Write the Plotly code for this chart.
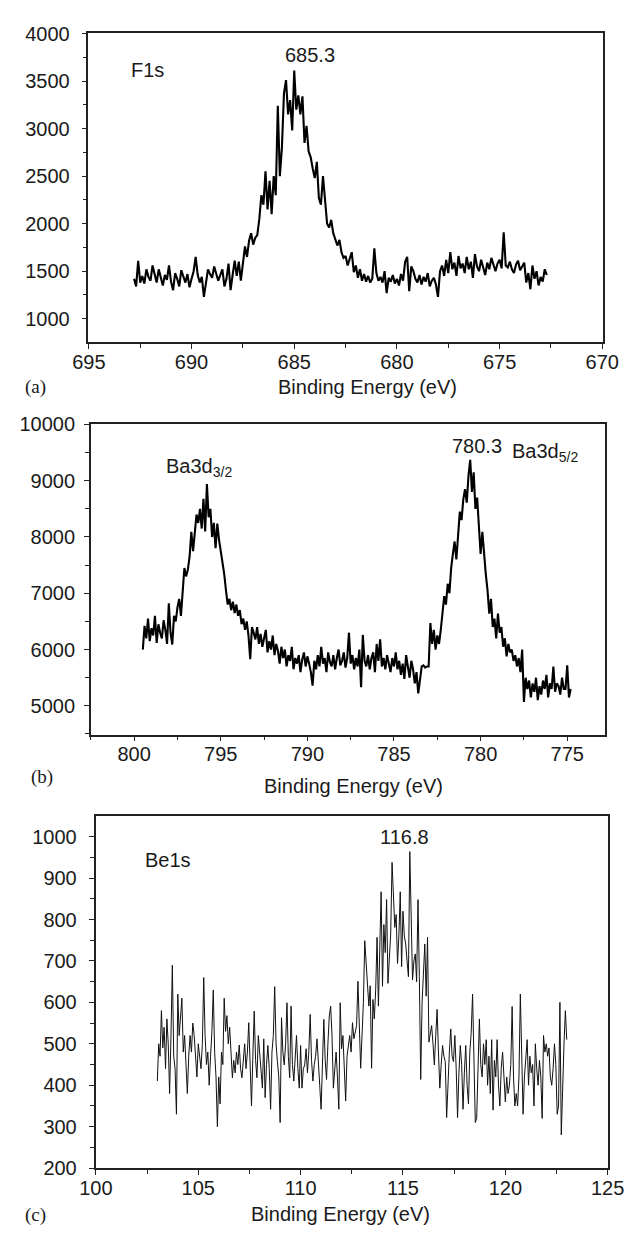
import numpy as np
import plotly.graph_objects as go

W, H = 639, 1234

# ---------------- Panel (a): F1s ----------------
energy_a_start, energy_a_step, n_a = 692.8, -0.1, 202
counts_a = [
    1420, 1340, 1610, 1380, 1450, 1370, 1520, 1440, 1400, 1560,
    1470, 1380, 1520, 1440, 1350, 1460, 1410, 1560, 1390, 1300,
    1480, 1420, 1340, 1510, 1450, 1380, 1470, 1330, 1420, 1500,
    1650, 1460, 1380, 1440, 1230, 1400, 1520, 1470, 1430, 1550,
    1480, 1400, 1460, 1520, 1340, 1420, 1580, 1300, 1460, 1610,
    1450, 1600, 1400, 1580, 1760, 1650, 1820, 1900, 1780, 1850,
    1880, 2050, 2300, 2200, 2550, 2150, 2450, 2100, 2500, 2300,
    3240, 2500, 2800, 3370, 3510, 3150, 3300, 2980, 3610, 3200,
    3350, 3150, 3340, 2850, 3030, 2760, 2700, 2580, 2480, 2650,
    2270, 2200, 2500, 2250, 2000, 1960, 2040, 1900, 1820, 1770,
    1830, 1700, 1640, 1660, 1560, 1620, 1700, 1490, 1560, 1430,
    1520, 1400, 1470, 1390, 1450, 1380, 1420, 1740, 1480, 1400,
    1440, 1380, 1500, 1270, 1430, 1390, 1460, 1370, 1420, 1350,
    1470, 1400, 1600, 1650, 1290, 1550, 1500, 1420, 1380, 1460,
    1360, 1440, 1390, 1480, 1340, 1400, 1430, 1360, 1230, 1500,
    1560, 1450, 1620, 1480, 1700, 1520, 1590, 1450, 1660, 1530,
    1580, 1480, 1650, 1520, 1600, 1430, 1680, 1550, 1500, 1620,
    1540, 1460, 1590, 1520, 1640, 1570, 1500, 1580, 1620, 1530,
    1910, 1560, 1540, 1600, 1520, 1480, 1570, 1610, 1510, 1550,
    1590, 1380, 1480, 1310, 1560, 1420, 1500, 1350, 1440, 1390,
    1520, 1460,
]
energy_a = np.round(energy_a_start + energy_a_step * np.arange(n_a), 2)

# ---------------- Panel (b): Ba3d ----------------
energy_b_start, energy_b_step, n_b = 799.5, -0.1, 248
counts_b = [
    6000, 6420, 6200, 6550, 6150, 6380, 6250, 6600, 6120, 6450,
    6300, 6200, 6520, 6350, 6100, 6820, 6300, 6090, 6600, 6500,
    6750, 6900, 6600, 7000, 7450, 7300, 7420, 7650, 8090, 7750,
    8100, 8400, 8250, 8500, 8150, 8680, 8100, 8940, 8350, 8500,
    8000, 8250, 7800, 8240, 7950, 7750, 7600, 7340, 7050, 6800,
    6900, 6700, 6850, 6650, 6800, 6600, 6700, 6450, 6550, 6350,
    6500, 6250, 5830, 6400, 6300, 6180, 6400, 6100, 6280, 6050,
    6200, 6350, 5950, 6150, 6000, 6250, 5900, 6100, 5980, 5750,
    6050, 5850, 6000, 5700, 5900, 5800, 6050, 5650, 5850, 5750,
    5900, 5600, 5820, 5950, 5700, 5880, 5750, 5600, 5360, 5800,
    5650, 5900, 5700, 6050, 5750, 5850, 5600, 5950, 5780, 5700,
    5900, 5650, 5850, 6000, 5720, 5800, 5950, 5680, 5850, 6300,
    5750, 5900, 5650, 5850, 5700, 6000, 5330, 6260, 5800, 5700,
    5900, 5650, 5850, 5950, 5600, 6100, 5800, 6180, 5700, 5850,
    5650, 5900, 5750, 5600, 5850, 5700, 5950, 5650, 5800, 5550,
    5750, 5480, 5900, 5650, 5500, 5800, 5650, 5400, 5600, 5220,
    5500, 5700, 5720, 5680, 5700, 5700, 6470, 6100, 6350, 6000,
    6250, 6100, 6350, 6700, 6950, 6800, 7170, 7000, 7450, 7700,
    7920, 7600, 8100, 8450, 8300, 8670, 8850, 8610, 9090, 9370,
    8800, 9150, 8500, 8700, 8200, 7700, 8090, 7630, 7340, 7050,
    6640, 6900, 6400, 6550, 6200, 6640, 6300, 6400, 6050, 6200,
    5880, 6100, 5950, 6000, 5800, 5900, 5700, 5850, 5600, 6000,
    5070, 5500, 5300, 5450, 5150, 5400, 5250, 5500, 5100, 5350,
    5200, 5450, 5300, 5550, 5150, 5400, 5300, 5700, 5250, 5400,
    5350, 5200, 5500, 5300, 5300, 5720, 5150, 5300,
]
energy_b = np.round(energy_b_start + energy_b_step * np.arange(n_b), 2)

# ---------------- Panel (c): Be1s ----------------
energy_c_start, energy_c_end, n_c = 103.0, 123.0, 301
counts_c = [
    410, 500, 470, 580, 490, 540, 440, 560, 500, 380, 520, 690, 470, 440, 330,
    620, 520, 560, 610, 480, 520, 450, 380, 470, 520, 480, 550, 520, 470, 420,
    500, 470, 440, 500, 660, 520, 450, 480, 400, 470, 530, 630, 480, 420, 300,
    420, 355, 480, 450, 610, 530, 568, 500, 540, 470, 418, 460, 430, 480, 450,
    497, 440, 418, 470, 500, 440, 480, 551, 420, 350, 470, 579, 460, 418, 520,
    470, 440, 393, 512, 370, 450, 496, 440, 342, 480, 520, 638, 500, 457, 420,
    310, 563, 480, 449, 500, 599, 470, 418, 591, 450, 410, 470, 520, 440, 393,
    496, 393, 440, 449, 488, 430, 480, 571, 460, 410, 450, 470, 512, 440, 400,
    342, 480, 559, 460, 414, 500, 567, 591, 520, 393, 450, 480, 420, 342, 599,
    488, 520, 440, 362, 470, 496, 520, 480, 551, 512, 530, 544, 651, 560, 441,
    520, 600, 749, 700, 662, 591, 640, 441, 607, 560, 630, 757, 591, 700, 867,
    639, 788, 720, 848, 646, 700, 765, 938, 850, 781, 812, 694, 760, 867, 686,
    820, 760, 741, 700, 662, 964, 781, 654, 700, 717, 650, 848, 662, 414, 600,
    686, 741, 615, 757, 504, 520, 544, 500, 449, 520, 583, 480, 393, 450, 496,
    470, 457, 322, 420, 480, 536, 470, 457, 520, 440, 322, 430, 496, 450, 342,
    430, 496, 400, 355, 480, 528, 620, 440, 310, 320, 420, 560, 450, 420, 500,
    450, 510, 400, 470, 380, 510, 340, 460, 420, 510, 400, 350, 440, 480, 400,
    360, 420, 380, 400, 450, 590, 420, 350, 380, 350, 420, 620, 470, 330, 420,
    460, 510, 400, 470, 430, 450, 350, 500, 440, 400, 460, 420, 320, 520, 480,
    500, 470, 490, 420, 400, 440, 500, 450, 330, 350, 600, 280, 420, 500, 580,
    510, 500,
]
energy_c = np.linspace(energy_c_start, energy_c_end, n_c)

# axis ranges
xrange_a, yrange_a = [695.02, 669.98], [752, 4003]
xrange_b, yrange_b = [802.5, 772.8], [4490, 10004]
xrange_c, yrange_c = [99.98, 125.02], [199.5, 1049]

FONT = "Liberation Sans, Arial, sans-serif"
SERIF = "Liberation Serif, Times New Roman, serif"
INK = "#1a1a1a"


def px(x):
    return x / W


def py(y):
    return 1 - y / H


fig = go.Figure()
fig.add_trace(go.Scatter(x=energy_a, y=counts_a, mode="lines",
                         line=dict(color="black", width=2.1), xaxis="x", yaxis="y",
                         showlegend=False))
fig.add_trace(go.Scatter(x=energy_b, y=counts_b, mode="lines",
                         line=dict(color="black", width=2.1), xaxis="x2", yaxis="y2",
                         showlegend=False))
fig.add_trace(go.Scatter(x=energy_c, y=counts_c, mode="lines",
                         line=dict(color="#111111", width=1.0), xaxis="x3", yaxis="y3",
                         showlegend=False))


def xax(domain, rng, anchor, dtick, minor):
    return dict(domain=domain, range=rng, anchor=anchor, showgrid=False, zeroline=False,
                showline=True, mirror=True, linecolor="#222", linewidth=1.5,
                ticks="outside", ticklen=5, tickwidth=1.3, tickcolor="#222",
                tick0=0, dtick=dtick, ticklabelstandoff=-4, tickformat="d",
                minor=dict(dtick=minor, ticks="outside", ticklen=4, tickwidth=1.2,
                           tickcolor="#222", showgrid=False),
                tickfont=dict(family=FONT, size=20, color=INK))


def yax(domain, rng, anchor, dtick, minor, standoff):
    return dict(domain=domain, range=rng, anchor=anchor, showgrid=False, zeroline=False,
                showline=True, mirror=True, linecolor="#222", linewidth=1.5,
                ticks="outside", ticklen=5, tickwidth=1.3, tickcolor="#222",
                tick0=0, dtick=dtick, ticklabelstandoff=standoff,
                tickformat="d", exponentformat="none", separatethousands=False,
                minor=dict(dtick=minor, ticks="outside", ticklen=4, tickwidth=1.2,
                           tickcolor="#222", showgrid=False),
                tickfont=dict(family=FONT, size=20, color=INK))


fig.update_layout(
    width=W, height=H, margin=dict(l=0, r=0, t=0, b=0),
    paper_bgcolor="white", plot_bgcolor="white",
    xaxis=xax([px(76.3), px(617.6)], xrange_a, "y", 5, 2.5),
    yaxis=yax([py(337.3), py(22.7)], yrange_a, "x", 500, 250, 8),
    xaxis2=xax([px(78.8), px(620.4)], xrange_b, "y2", 5, 2.5),
    yaxis2=yax([py(736.7), py(420.7)], yrange_b, "x2", 1000, 500, 5),
    xaxis3=xax([px(83.7), px(623.3)], xrange_c, "y3", 5, 2.5),
    yaxis3=yax([py(1178.3), py(820)], yrange_c, "x3", 100, 50, 8),
)


def note(text, x, y, size=20, family=FONT):
    fig.add_annotation(text=text, x=px(x), y=py(y), xref="paper", yref="paper",
                       showarrow=False, xanchor="center", yanchor="middle",
                       font=dict(family=family, size=size, color=INK))


# panel (a)
note("F1s", 138, 60)
note("685.3", 309, 45)
note("Binding Energy (eV)", 370, 383)
note("(a)", 21, 383, size=19, family=SERIF)
# panel (b)
note("Ba3d<sub>3/2</sub>", 193, 465)
note("780.3", 485, 443)
note("Ba3d<sub>5/2</sub>", 557, 450)
note("Binding Energy (eV)", 355, 789)
note("(b)", 27, 780, size=19, family=SERIF)
# panel (c)
note("Be1s", 160, 864)
note("116.8", 409, 841)
note("Binding Energy (eV)", 342, 1225)
note("(c)", 21, 1226, size=19, family=SERIF)

fig.write_html("out.html")
